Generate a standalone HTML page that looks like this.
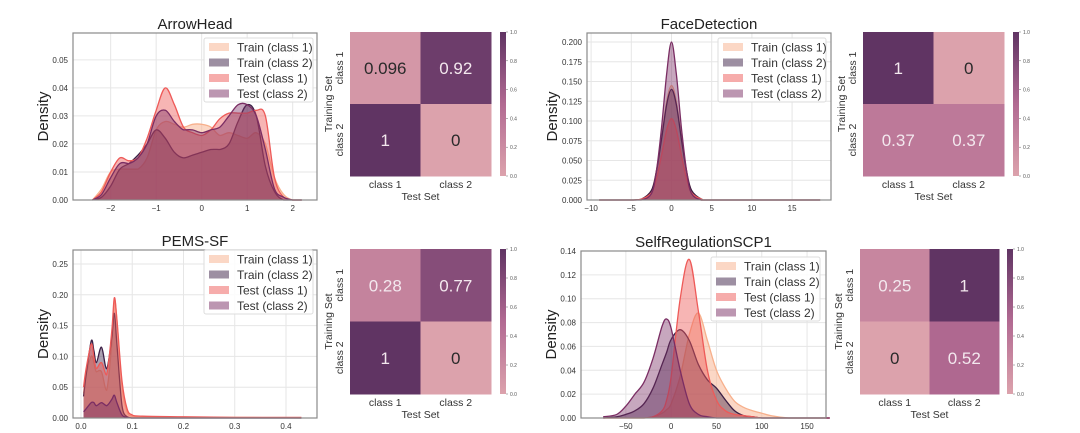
<!DOCTYPE html>
<html><head><meta charset="utf-8"><style>
body{margin:0;background:#fff;width:1080px;height:433px;overflow:hidden}
svg{display:block;font-family:"Liberation Sans","DejaVu Sans",sans-serif}
</style></head><body>
<svg id="fig" width="1080" height="433" viewBox="0 0 1080 433" xmlns="http://www.w3.org/2000/svg"></svg>
<script>
// ---- data ----
const seriesNames = ["Train (class 1)","Train (class 2)","Test (class 1)","Test (class 2)"];
const arrowX = [-2.4,-2.2,-2.0,-1.8,-1.6,-1.4,-1.2,-1.0,-0.8,-0.6,-0.4,-0.2,0,0.2,0.4,0.6,0.8,1.0,1.2,1.4,1.6,1.8,2.0,2.2];
const arrowTrain1 = [0,0.004,0.010,0.011,0.011,0.011,0.015,0.025,0.028,0.027,0.026,0.027,0.027,0.026,0.023,0.024,0.023,0.022,0.024,0.020,0.008,0.002,0,0];
const arrowTrain2 = [0,0.001,0.005,0.011,0.013,0.016,0.020,0.025,0.022,0.017,0.015,0.016,0.017,0.018,0.018,0.020,0.028,0.034,0.030,0.012,0.003,0,0,0];
const arrowTest1 = [0,0.003,0.010,0.015,0.014,0.015,0.022,0.032,0.040,0.034,0.026,0.024,0.023,0.025,0.029,0.031,0.031,0.031,0.032,0.030,0.008,0.001,0,0];
const arrowTest2 = [0,0.002,0.008,0.013,0.013,0.015,0.020,0.030,0.032,0.028,0.025,0.025,0.024,0.025,0.026,0.030,0.034,0.034,0.030,0.018,0.004,0.001,0,0];
const faceX = [-9,-5,-3.75,-2.5,-1.9,-1.25,-0.6,0,0.6,1.25,1.9,2.5,3.75,5,18.5];
const faceTrain1 = [0,0,0.001,0.012,0.036,0.078,0.125,0.145,0.125,0.078,0.036,0.012,0.001,0,0];
const faceTrain2 = [0,0,0.001,0.012,0.035,0.076,0.121,0.140,0.121,0.076,0.035,0.012,0.001,0,0];
const faceTest1 = [0,0,0.001,0.009,0.026,0.056,0.089,0.103,0.089,0.056,0.026,0.009,0.001,0,0];
const faceTest2 = [0,0,0,0.008,0.035,0.090,0.160,0.200,0.160,0.090,0.035,0.008,0,0,0];
const pemsX = [0.005,0.01,0.02,0.025,0.03,0.04,0.05,0.06,0.065,0.07,0.08,0.09,0.1,0.12,0.2,0.3,0.43];
const pemsTrain1 = [0.04,0.07,0.10,0.09,0.075,0.075,0.045,0.12,0.19,0.16,0.05,0.01,0.003,0.002,0.001,0.001,0];
const pemsTrain2 = [0.035,0.07,0.125,0.11,0.09,0.115,0.08,0.13,0.17,0.12,0.02,0.002,0,0,0,0,0];
const pemsTest1 = [0.05,0.08,0.12,0.10,0.08,0.09,0.07,0.14,0.195,0.16,0.06,0.015,0.005,0.003,0.002,0.001,0.001];
const pemsTest2 = [0.01,0.015,0.025,0.025,0.02,0.025,0.02,0.03,0.037,0.025,0.005,0.001,0,0,0,0,0];
const scpX = [-75,-60,-50,-40,-30,-20,-10,-5,0,10,20,30,40,50,60,70,80,90,100,110,130,175];
const scpTrain1 = [0,0,0,0,0,0.001,0.004,0.007,0.012,0.035,0.07,0.088,0.065,0.04,0.025,0.014,0.009,0.006,0.004,0.002,0,0];
const scpTrain2 = [0,0.001,0.003,0.006,0.012,0.025,0.045,0.055,0.066,0.074,0.065,0.045,0.032,0.025,0.015,0.006,0.002,0.001,0,0,0,0];
const scpTest1 = [0,0,0,0,0,0.001,0.006,0.015,0.035,0.1,0.133,0.09,0.04,0.015,0.006,0.003,0.002,0.001,0,0,0,0];
const scpTest2 = [0.001,0.003,0.01,0.02,0.03,0.05,0.077,0.083,0.075,0.04,0.012,0.003,0.001,0,0,0,0,0,0,0,0,0];
const arrowYTicks = ["0.00","0.01","0.02","0.03","0.04","0.05"];
const faceYTicks = ["0.000","0.025","0.050","0.075","0.100","0.125","0.150","0.175","0.200"];
const pemsYTicks = ["0.00","0.05","0.10","0.15","0.20","0.25"];
const scpYTicks = ["0.00","0.02","0.04","0.06","0.08","0.10","0.12","0.14"];
const arrowXTicks = ["−2","−1","0","1","2"];
const faceXTicks = ["−10","−5","0","5","10","15"];
const pemsXTicks = ["0.0","0.1","0.2","0.3","0.4"];
const scpXTicks = ["−50","0","50","100","150"];
const arrowMatrix = [0.096,0.92,1,0];
const faceMatrix = [1,0,0.37,0.37];
const pemsMatrix = [0.28,0.77,1,0];
const scpMatrix = [0.25,1,0,0.52];
const matrixLabels = ["0.096","0.92","1","0"];
const faceLabels = ["1","0","0.37","0.37"];
const pemsLabels = ["0.28","0.77","1","0"];
const scpLabels = ["0.25","1","0","0.52"];
const cbTicks = ["0.0","0.2","0.4","0.6","0.8","1.0"];

const colors=["#f7b08c","#3b1f45","#ee5a58","#7a2d63"];
const fills=[0.5,0.42,0.45,0.42];
const NS="http://www.w3.org/2000/svg";
const svg=document.getElementById('fig');
function el(tag,attrs,parent,text){const e=document.createElementNS(NS,tag);for(const k in attrs)e.setAttribute(k,attrs[k]);if(text!==undefined)e.textContent=text;(parent||svg).appendChild(e);return e;}
function smooth(pts){let d="M"+pts[0][0]+","+pts[0][1];for(let i=0;i<pts.length-1;i++){const p0=pts[Math.max(0,i-1)],p1=pts[i],p2=pts[i+1],p3=pts[Math.min(pts.length-1,i+2)];
const c1=[p1[0]+(p2[0]-p0[0])/6,p1[1]+(p2[1]-p0[1])/6],c2=[p2[0]-(p3[0]-p1[0])/6,p2[1]-(p3[1]-p1[1])/6];
d+=" C"+c1[0].toFixed(1)+","+Math.min(c1[1],Math.max(p1[1],p2[1])).toFixed(1)+" "+c2[0].toFixed(1)+","+Math.min(c2[1],Math.max(p1[1],p2[1])).toFixed(1)+" "+p2[0].toFixed(1)+","+p2[1].toFixed(1);}return d;}

function density(cfg){
  const g=el('g',{},svg);
  
  
  const {L,R,T,B}=cfg;
  const sx=v=>L+(v-cfg.xmin)/(cfg.xmax-cfg.xmin)*(R-L);
  const sy=v=>B-(v-cfg.ymin)/(cfg.ymax-cfg.ymin)*(B-T);
  cfg.xt.forEach((t,i)=>{const x=sx(cfg.xtv[i]);el('line',{x1:x,x2:x,y1:T,y2:B,stroke:'#e6e6e6','stroke-width':1},g);
    const lab=el('text',{x:x,y:B+11,'font-size':8,'text-anchor':'middle',fill:'#333'},g,t);
    });
  cfg.yt.forEach((t,i)=>{const y=sy(parseFloat(t));el('line',{x1:L,x2:R,y1:y,y2:y,stroke:'#e6e6e6','stroke-width':1},g);
    const lab=el('text',{x:L-5,y:y+3,'font-size':8,'text-anchor':'end',fill:'#333'},g,t);
    });
  cfg.series.forEach((s,k)=>{
    const pts=cfg.xs.map((x,i)=>[sx(x),sy(s[i])]);
    const line=smooth(pts);
    const a=el('path',{d:line+` L${pts[pts.length-1][0]},${B} L${pts[0][0]},${B} Z`,fill:colors[k],'fill-opacity':fills[k],stroke:'none'},g);
    
    const l=el('path',{d:line,fill:'none',stroke:colors[k],'stroke-width':1.3},g);
    
  });
  el('rect',{x:L,y:T,width:R-L,height:B-T,fill:'none',stroke:'#8a8a8a','stroke-width':1.2},g);
  const t=el('text',{x:(L+R)/2,y:T-4,'font-size':15,'text-anchor':'middle',fill:'#222'},g,cfg.title);
  
  const yl=el('text',{x:cfg.yl,y:(T+B)/2,'font-size':15,'text-anchor':'middle',fill:'#222',transform:`rotate(-90 ${cfg.yl} ${(T+B)/2})`},g,'Density');
  
  const lg=el('g',{},g);
  
  el('rect',{x:cfg.lx,y:cfg.ly,width:cfg.lw,height:64,fill:'#fff','fill-opacity':0.85,stroke:'#ddd',rx:2},lg);
  seriesNames.forEach((n,k)=>{const y=cfg.ly+9+k*15.5;
    const e=el('g',{},lg);
    el('rect',{x:cfg.lx+5,y:y-4,width:20,height:8,fill:colors[k],'fill-opacity':0.5},e);
    el('text',{x:cfg.lx+33,y:y+4.5,'font-size':12,fill:'#333'},e,n);});
}
function lerp(a,b,t){return Math.round(a+(b-a)*t);}
function cmap(v){const stops=[[0,[220,162,172]],[0.5,[178,106,146]],[1,[96,52,99]]];
  let i=v<=0.5?0:1;const a=stops[i],b=stops[i+1];const t=(v-a[0])/(b[0]-a[0]);
  return `rgb(${lerp(a[1][0],b[1][0],t)},${lerp(a[1][1],b[1][1],t)},${lerp(a[1][2],b[1][2],t)})`;}
let gradDone=false;
function heat(cfg){
  const g=el('g',{},svg);
  
  const {L,R,T,B}=cfg;const cw=(R-L)/2,ch=(B-T)/2;
  cfg.vals.forEach((v,i)=>{const r=Math.floor(i/2),c=i%2;
    const cell=el('rect',{x:L+c*cw,y:T+r*ch,width:cw+0.5,height:ch+0.5,fill:cmap(v)},g);
    
    const tx=el('text',{x:L+c*cw+cw/2,y:T+r*ch+ch/2+6,'font-size':17,'text-anchor':'middle',fill:v>0.15?'#f3e8ee':'#2a2a2a'},g,cfg.labels[i]);
    });
  ['class 1','class 2'].forEach((n,i)=>{
    el('text',{x:L+i*cw+cw/2,y:B+12,'font-size':10.5,'text-anchor':'middle',fill:'#333'},g,n);
    const yy=T+i*ch+ch/2,xx=L-7;
    el('text',{x:xx,y:yy,'font-size':10.5,'text-anchor':'middle',fill:'#333',transform:`rotate(-90 ${xx} ${yy})`},g,n);});
  el('text',{x:(L+R)/2,y:B+24,'font-size':10.5,'text-anchor':'middle',fill:'#333'},g,'Test Set');
  const tx=L-18,ty=(T+B)/2;
  el('text',{x:tx,y:ty,'font-size':10.5,'text-anchor':'middle',fill:'#333',transform:`rotate(-90 ${tx} ${ty})`},g,'Training Set');
  if(!gradDone){const d=el('defs',{},svg);const lg=el('linearGradient',{id:'cb',x1:0,y1:1,x2:0,y2:0},d);
    [0,0.25,0.5,0.75,1].forEach(v=>el('stop',{offset:v,'stop-color':cmap(v)},lg));gradDone=true;}
  const cb=el('g',{},g);
  el('rect',{x:cfg.cx,y:T,width:6,height:B-T,fill:'url(#cb)'},cb);
  cbTicks.forEach((t,i)=>{const y=B-i/5*(B-T);el('line',{x1:cfg.cx+6,x2:cfg.cx+8,y1:y,y2:y,stroke:'#666','stroke-width':0.5},cb);
    el('text',{x:cfg.cx+10,y:y+2,'font-size':5,fill:'#555'},cb,t);});
}
density({name:'arrowhead',title:'ArrowHead',L:73,R:317,T:33,B:200,xmin:-2.8277,xmax:2.5346,ymin:0,ymax:0.05957,
  xs:arrowX,series:[arrowTrain1,arrowTrain2,arrowTest1,arrowTest2],xt:arrowXTicks,xtv:[-2,-1,0,1,2],yt:arrowYTicks,yl:48,lx:204,ly:38,lw:109});
density({name:'facedetection',title:'FaceDetection',L:587,R:831,T:33,B:200,xmin:-10.51,xmax:19.84,ymin:0,ymax:0.2114,
  xs:faceX,series:[faceTrain1,faceTrain2,faceTest1,faceTest2],xt:faceXTicks,xtv:[-10,-5,0,5,10,15],yt:faceYTicks,yl:557,lx:718,ly:38,lw:108});
density({name:'pems-sf',title:'PEMS-SF',L:73,R:317,T:250,B:418,xmin:-0.0156,xmax:0.4605,ymin:0,ymax:0.2727,
  xs:pemsX,series:[pemsTrain1,pemsTrain2,pemsTest1,pemsTest2],xt:pemsXTicks,xtv:[0,0.1,0.2,0.3,0.4],yt:pemsYTicks,yl:48,lx:204,ly:250,lw:109});
density({name:'selfregulationscp1',title:'SelfRegulationSCP1',L:581,R:826,T:251,B:418,xmin:-99.5,xmax:170.9,ymin:0,ymax:0.14,
  xs:scpX,series:[scpTrain1,scpTrain2,scpTest1,scpTest2],xt:scpXTicks,xtv:[-50,0,50,100,150],yt:scpYTicks,yl:556,lx:711,ly:257,lw:109});
heat({name:'arrowhead',L:350,R:491,T:32,B:176,cx:500,vals:arrowMatrix,labels:matrixLabels});
heat({name:'facedetection',L:863,R:1004,T:32,B:176,cx:1013,vals:faceMatrix,labels:faceLabels});
heat({name:'pems-sf',L:350,R:491,T:249,B:394,cx:500,vals:pemsMatrix,labels:pemsLabels});
heat({name:'selfregulationscp1',L:860,R:999,T:249,B:394,cx:1007,vals:scpMatrix,labels:scpLabels});
</script>
</body></html>
